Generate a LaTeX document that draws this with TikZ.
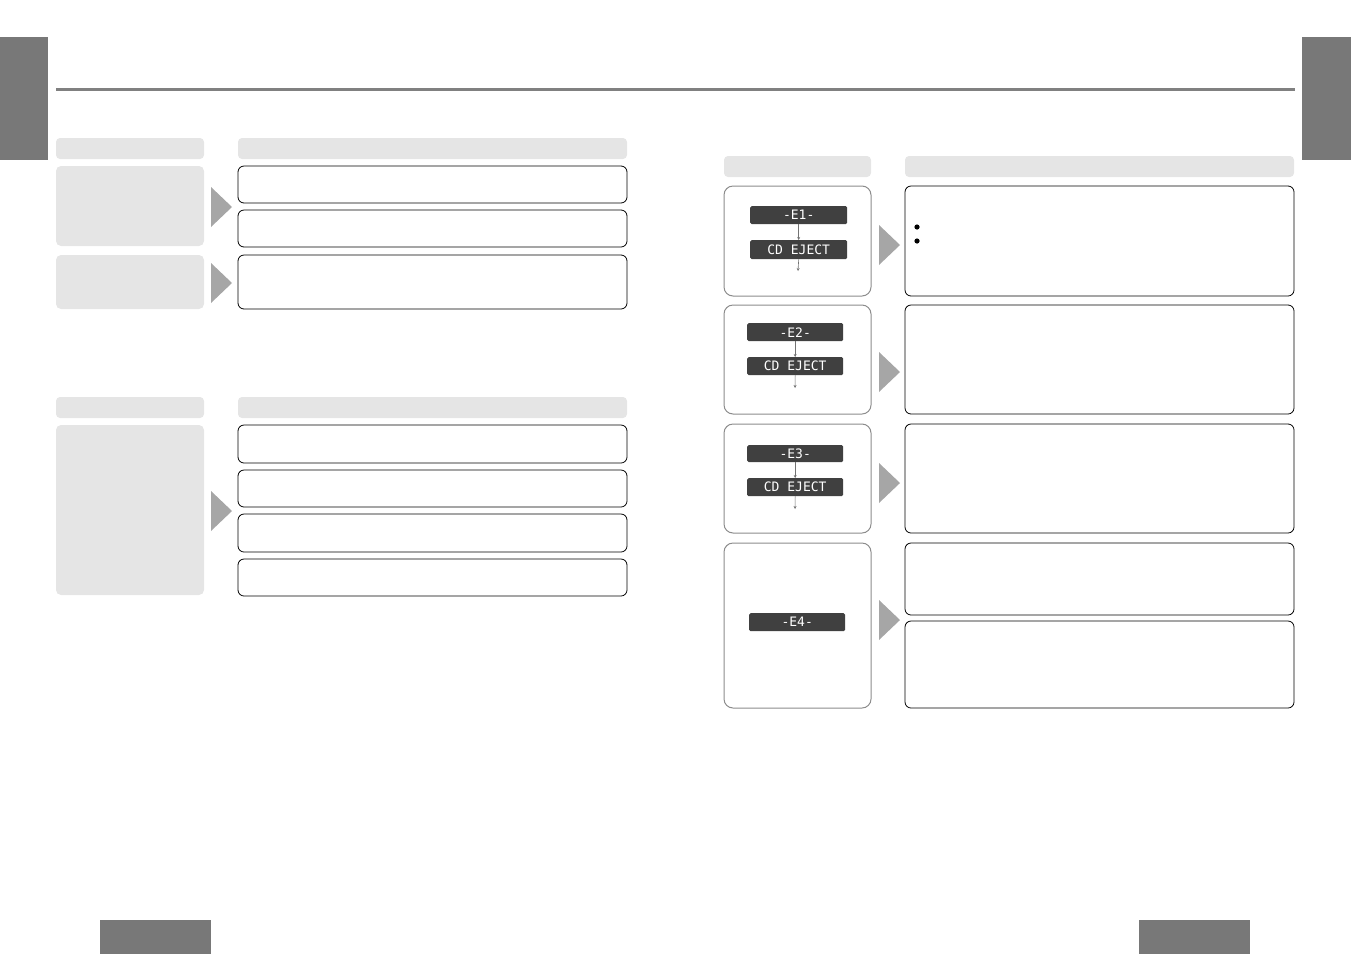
\documentclass[tikz,border=0pt]{standalone}
\usepackage{fontspec}
\usetikzlibrary{arrows.meta}
\newfontfamily\lcd{DejaVu Sans Mono}
\begin{document}
\begin{tikzpicture}[x=1pt,y=-1pt,
 tab/.style={fill=black!53,draw=none},
 hdr/.style={fill=black!10,draw=none,rounded corners=4pt},
 gbox/.style={fill=black!10,draw=none,rounded corners=5pt},
 tbox/.style={draw=black,line width=0.8pt,rounded corners=6pt,fill=white},
 dbox/.style={draw=black!45,line width=1pt,rounded corners=9pt,fill=white},
 lcdbox/.style={fill=black!75,draw=none,rounded corners=1.5pt,text=white,font=\lcd\fontsize{13}{13}\selectfont,inner sep=0pt,anchor=north west},
 tri/.style={fill=black!35,draw=none},
 sarr/.style={draw=black!55,line width=0.6pt,-{Stealth[length=3pt,width=3pt]}}]
\useasboundingbox (0,0) rectangle (1351,954);
\fill[tab] (0,37) rectangle (48,160);
\fill[tab] (1302,37) rectangle (1351,160);
\draw[black!50,line width=3pt] (56,89) -- (1295,89);
\fill[tab] (100,920) rectangle (211,954);
\fill[tab] (1139,920) rectangle (1250,954);
% left top
\fill[hdr] (56,138) rectangle (204,159);
\fill[hdr] (238,138) rectangle (627,159);
\fill[gbox] (56,166) rectangle (204,246);
\fill[gbox] (56,255) rectangle (204,309);
\draw[tbox] (238,166) rectangle (627,203);
\draw[tbox] (238,210) rectangle (627,247);
\draw[tbox] (238,255) rectangle (627,309);
\fill[tri] (211,187) -- (232,207) -- (211,227) -- cycle;
\fill[tri] (211,263) -- (232,283) -- (211,303) -- cycle;
% left bottom
\fill[hdr] (56,397) rectangle (204,418);
\fill[hdr] (238,397) rectangle (627,418);
\fill[gbox] (56,425) rectangle (204,595);
\draw[tbox] (238,425) rectangle (627,463);
\draw[tbox] (238,470) rectangle (627,507);
\draw[tbox] (238,514) rectangle (627,552);
\draw[tbox] (238,559) rectangle (627,596);
\fill[tri] (211,491) -- (232,511) -- (211,531) -- cycle;
% right
\fill[hdr] (724,156) rectangle (871,177);
\fill[hdr] (905,156) rectangle (1294,177);
\draw[dbox] (724,186) rectangle (871,296);
\draw[dbox] (724,305) rectangle (871,414);
\draw[dbox] (724,424) rectangle (871,533);
\draw[dbox] (724,543) rectangle (871,708);
\draw[tbox] (905,186) rectangle (1294,296);
\draw[tbox] (905,305) rectangle (1294,414);
\draw[tbox] (905,424) rectangle (1294,533);
\draw[tbox] (905,543) rectangle (1294,615);
\draw[tbox] (905,621) rectangle (1294,708);
\fill[tri] (879,225) -- (900,245) -- (879,265) -- cycle;
\fill[tri] (879,352) -- (900,372) -- (879,392) -- cycle;
\fill[tri] (879,463) -- (900,483) -- (879,503) -- cycle;
\fill[tri] (879,600) -- (900,620) -- (879,640) -- cycle;
\fill (917,227) circle (2.6pt);
\fill (917,241) circle (2.6pt);
% displays
\node[lcdbox,minimum width=97pt,minimum height=18pt] (e1) at (750,206) {-E1-};
\node[lcdbox,minimum width=97pt,minimum height=19pt] (c1) at (750,240) {CD EJECT};
\draw[sarr] (e1.south) -- (c1.north);
\coordinate (c1e) at (798,271);
\draw[sarr] (c1.south) -- (c1e);
\node[lcdbox,minimum width=96pt,minimum height=18pt] (e2) at (747,323) {-E2-};
\node[lcdbox,minimum width=96pt,minimum height=18pt] (c2) at (747,357) {CD EJECT};
\draw[sarr] (e2.south) -- (c2.north);
\coordinate (c2e) at (795,388);
\draw[sarr] (c2.south) -- (c2e);
\node[lcdbox,minimum width=96pt,minimum height=17pt] (e3) at (747,445) {-E3-};
\node[lcdbox,minimum width=96pt,minimum height=18pt] (c3) at (747,478) {CD EJECT};
\draw[sarr] (e3.south) -- (c3.north);
\coordinate (c3e) at (795,509);
\draw[sarr] (c3.south) -- (c3e);
\node[lcdbox,minimum width=96pt,minimum height=18pt] (e4) at (749,613) {-E4-};
\end{tikzpicture}
\end{document}
